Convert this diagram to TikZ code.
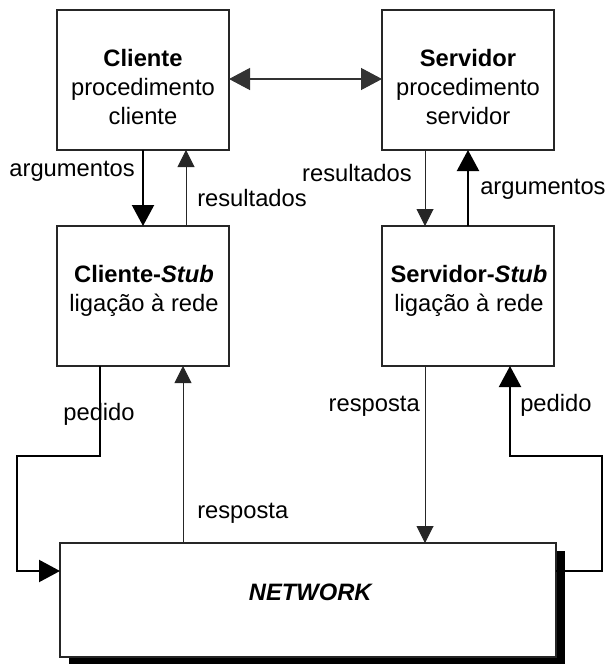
\documentclass[tikz,border=0pt]{standalone}
\usepackage{fontspec}
\setmainfont{Liberation Sans}
\usetikzlibrary{arrows.meta,calc}
\begin{document}
\begin{tikzpicture}[x=0.75pt,y=-0.75pt,
  font=\fontsize{17.8}{21.75}\selectfont,
  boxnode/.style={draw=black!85,line width=0.8pt,fill=white,minimum width=129pt,minimum height=105pt,inner sep=0pt,outer sep=0pt},
  boxtext/.style={align=center,inner sep=0pt,anchor=north},
  lbl/.style={inner sep=0pt},
  bigtip/.style={-{Triangle[length=15.75pt,width=16.5pt]}},
  smalltip/.style={-{Triangle[length=12.75pt,width=12.75pt]}},
  thickline/.style={line width=1.6pt},
  thinline/.style={line width=0.75pt,black!85}]
\useasboundingbox (0,0) rectangle (608,664);
% boxes
\node[boxnode] (cli) at (143,80) {};
\node[boxnode] (srv) at (468,80) {};
\node[boxnode] (cstub) at (143,296) {};
\node[boxnode] (sstub) at (468,296) {};
\fill[black] (69,551) rectangle (565,664);
\node[boxnode,minimum width=372pt,minimum height=85.5pt] (net) at (308,600) {};
% box texts
\node[boxtext] (clit) at (143,49) {\textbf{Cliente}\\procedimento\\cliente};
\node[boxtext] (srvt) at (468,49) {\textbf{Servidor}\\procedimento\\servidor};
\node[boxtext] (cstubt) at (144,265) {\textbf{Cliente-\textit{Stub}}\\liga\c{c}\~ao \`a rede};
\node[boxtext] (sstubt) at (469,265) {\textbf{Servidor-\textit{Stub}}\\liga\c{c}\~ao \`a rede};
\node[lbl,anchor=base] (nett) at (311,600.5) {\textbf{\textit{NETWORK}}};
% top double arrow
\draw[line width=0.9pt,black!80,{Triangle[length=15.75pt,width=16.5pt]}-{Triangle[length=15.75pt,width=16.5pt]}] ($(cli.east)+(0,-1)$) -- ($(srv.west)+(0,-1)$);
% client side vertical arrows
\draw[thickline,bigtip] (cli.south) -- (cstub.north);
\draw[thinline,smalltip] ($(cstub.north)+(43,0)$) -- ($(cli.south)+(43,0)$);
% server side vertical arrows
\draw[thinline,smalltip] ($(srv.south)+(-43,0)$) -- ($(sstub.north)+(-43,0)$);
\draw[thickline,bigtip] (sstub.north) -- (srv.south);
% network connections
\draw[thickline,bigtip] ($(cstub.south)+(-43,0)$) |- (17,456) |- ($(net.west)+(0,-29)$);
\draw[thinline,smalltip] ($(net.north)+(-125,0)$) -- ($(cstub.south)+(40,0)$);
\draw[thinline,smalltip] ($(sstub.south)+(-43,0)$) -- ($(net.north)+(117,0)$);
\draw[thickline,bigtip] ($(net.east)+(0,-29)$) -| (602,456) -| ($(sstub.south)+(42,0)$);
% labels
\node[lbl,anchor=mid east] (l1) at (135,173) {argumentos};
\node[lbl,anchor=mid west] (l2) at (197,203) {resultados};
\node[lbl,anchor=mid east] (l3) at (412,178) {resultados};
\node[lbl,anchor=mid west] (l4) at (480,191) {argumentos};
\node[lbl,anchor=mid] (l5) at (99,417) {pedido};
\node[lbl,anchor=mid east] (l6) at (420,408) {resposta};
\node[lbl,anchor=mid west] (l7) at (520,408) {pedido};
\node[lbl,anchor=mid west] (l8) at (197,515) {resposta};
\end{tikzpicture}
\end{document}
